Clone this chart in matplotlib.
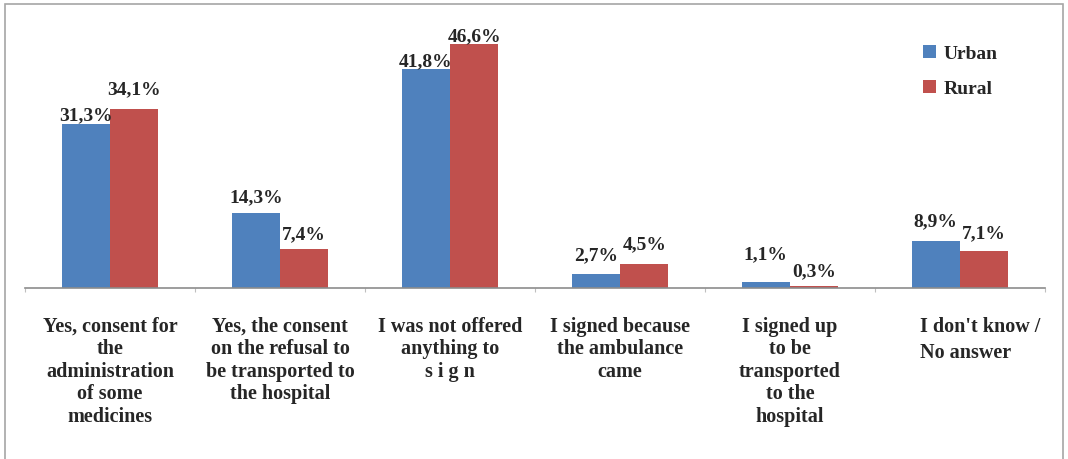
import matplotlib.pyplot as plt
import numpy as np
from matplotlib.patches import Rectangle

categories = [
    "Yes, consent for\nthe\nadministration\nof some\nmedicines",
    "Yes, the consent\non the refusal to\nbe transported to\nthe hospital",
    "I was not offered\nanything to\ns i g n",
    "I signed because\nthe ambulance\ncame",
    "I signed up\nto be\ntransported\nto the\nhospital",
    "I don't know /\nNo answer",
]
urban = [31.3, 14.3, 41.8, 2.7, 1.1, 8.9]
rural = [34.1, 7.4, 46.6, 4.5, 0.3, 7.1]
series_names = ["Urban", "Rural"]

# gap between each value label and its bar, in pixels
urban_lift = [1, 8, 0, 11, 20, 12]
rural_lift = [12, 7, 0, 12, 7, 10]

BLUE = "#4F81BD"
RED = "#C0504D"
TEXT = "#262626"
FONT = "Liberation Serif"

W, H = 1068, 460
fig = plt.figure(figsize=(W / 100, H / 100), dpi=100)
fig.patch.set_facecolor("white")

# chart frame
fig.patches.append(Rectangle((5 / W, -0.05), 1058 / W, 1.05 - 5 / H,
                             transform=fig.transFigure, fill=False,
                             edgecolor="#a6a6a6", linewidth=1.2))

ax = fig.add_axes([25 / W, (H - 289) / H, 1020 / W, (289 - 27) / H])
x = np.arange(len(categories))
bw = 0.285

ax.bar(x - bw / 2, urban, bw, color=BLUE, label=series_names[0])
ax.bar(x + bw / 2, rural, bw, color=RED, label=series_names[1])

for xi, u, r, lu, lr in zip(x, urban, rural, urban_lift, rural_lift):
    for pos, v, lift in ((xi - bw / 2, u, lu), (xi + bw / 2, r, lr)):
        ax.annotate(f"{v:.1f}%".replace(".", ","), (pos, v),
                    xytext=(0, lift), textcoords="offset pixels",
                    ha="center", va="bottom", fontsize=14, fontweight="bold",
                    family=FONT, color=TEXT)

ax.set_xlim(-0.5, len(categories) - 0.5)
ax.set_ylim(0, 50)
for s in ("top", "right", "left"):
    ax.spines[s].set_visible(False)
ax.spines["bottom"].set_color("#8c8c8c")
ax.spines["bottom"].set_linewidth(1.2)
ax.set_yticks([])
ax.set_xticks(np.arange(len(categories) + 1) - 0.5)
ax.set_xticklabels([])
ax.tick_params(axis="x", length=3, color="#bfbfbf", width=0.8)

for i, lab in enumerate(categories):
    if i == len(categories) - 1:
        ax.text(i - 0.235, -0.105, lab, transform=ax.get_xaxis_transform(),
                ha="left", va="top", fontsize=14.5, fontweight="bold",
                family=FONT, color=TEXT, linespacing=1.45)
    else:
        ax.text(i, -0.105, lab, transform=ax.get_xaxis_transform(),
                ha="center", va="top", fontsize=14.5, fontweight="bold",
                family=FONT, color=TEXT, linespacing=1.17)

leg = ax.legend(loc="upper left", bbox_to_anchor=(905 / W, 1 - 28 / H),
                bbox_transform=fig.transFigure, frameon=False,
                prop={"family": FONT, "weight": "bold", "size": 14},
                handlelength=0.7, handleheight=0.7, handletextpad=0.4,
                labelspacing=0.9, labelcolor=TEXT)

fig.savefig("out.png", dpi=100)
